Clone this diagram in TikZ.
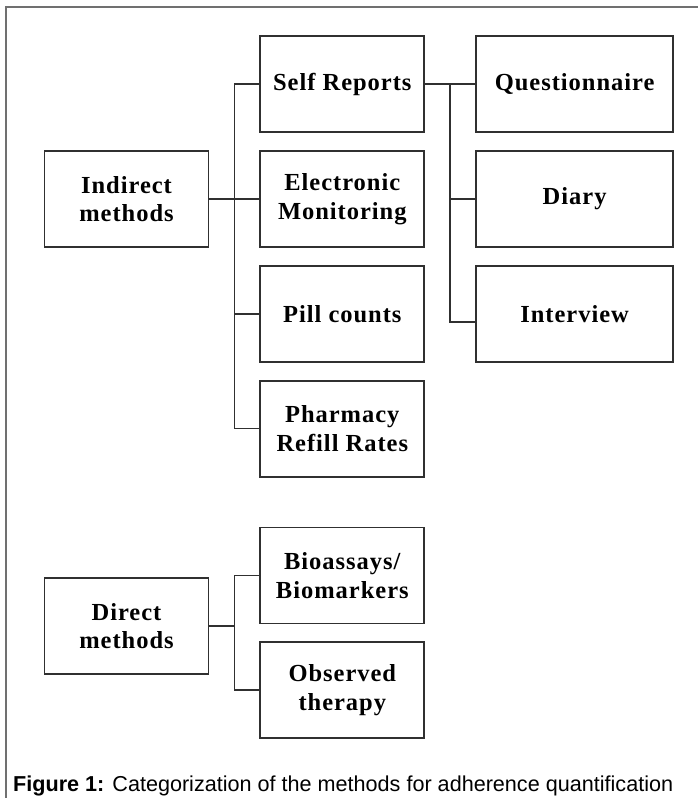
\documentclass[tikz,border=0pt]{standalone}
\usepackage{fontspec}
\setmainfont{Liberation Serif}
\newfontfamily\boxfont[LetterSpace=4]{Liberation Serif}
\newfontfamily\capfont{Liberation Sans}
\usetikzlibrary{positioning,calc}
\definecolor{FrameGray}{HTML}{707070}
\definecolor{LineGray}{HTML}{303030}

\begin{document}
\begin{tikzpicture}[x=1pt, y=-1pt, node distance=17pt and 50pt,
   box/.style={draw=LineGray, line width=1.8pt, minimum width=164pt, minimum height=96pt,
               inner sep=2pt, align=center, font=\boxfont\bfseries\fontsize{24.5}{28.5}\selectfont},
   wide/.style={box, minimum width=197pt},
   link/.style={draw=LineGray, line width=1.6pt}]
  \useasboundingbox (0,0) rectangle (698,798);
  % open frame: only top and left edges are visible
  \draw[FrameGray, line width=2pt] (698,7) -- (6,7) -- (6,798);

  \node[box] (ind) at (126.5,199) {Indirect\\methods};
  \node[box, right=of ind]   (elec)  {Electronic\\Monitoring};
  \node[box, above=of elec]  (self)  {Self Reports};
  \node[box, below=of elec]  (pill)  {Pill counts};
  \node[box, below=of pill]  (pharm) {Pharmacy\\Refill Rates};
  \node[wide, right=50pt of self] (quest) {Questionnaire};
  \node[wide, below=of quest] (diary) {Diary};
  \node[wide, below=of diary] (intv)  {Interview};

  \node[box, below=49pt of pharm] (bio) {Bioassays/\\Biomarkers};
  \node[box, below=of bio]        (obs) {Observed\\therapy};
  \node[box] (dir) at (126.5,626) {Direct\\methods};

  \coordinate (ij) at ($(ind.east)!0.5!(elec.west)$);
  \coordinate (sj) at ($(self.east)!0.5!(quest.west)$);
  \coordinate (dj) at ($(dir.east)!0.5!(dir.east -| bio.west)$);

  \draw[link] (ind.east) -- (elec.west);
  \draw[link] (self.west) -| (ij) |- (pharm.west);
  \draw[link] (pill.west) -- (pill.west -| ij);
  \draw[link] (self.east) -- (quest.west);
  \draw[link] (sj) |- ([yshift=-8pt]intv.west);
  \draw[link] (sj |- diary.west) -- (diary.west);
  \draw[link] (dir.east) -- (dj);
  \draw[link] (bio.west) -| (dj) |- (obs.west);

  \node[anchor=base west, inner sep=0pt, font=\capfont\fontsize{21.6}{24}\selectfont] (cap) at (13,791)
    {\textbf{Figure 1:} Categorization of the methods for adherence quantification};
\end{tikzpicture}
\end{document}
